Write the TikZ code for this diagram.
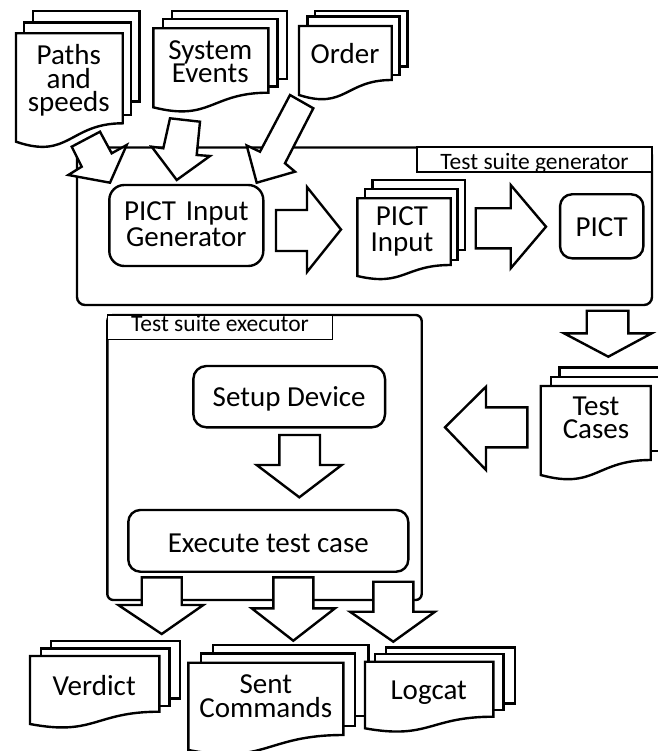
\documentclass[tikz,border=0pt]{standalone}
\usepackage{fontspec}
\setmainfont{Carlito}
\lineskiplimit=-100pt
\newcommand\dpage[4]{\filldraw[docline] (#1,#2) rectangle (#3,#4);}
\newcommand\dfront[5]{\filldraw[docline] (#1,#2) -- (#3,#2) -- (#3,#5) .. controls ({(#1+#3)/2},#5) and ({(#1+#3)/2},{#5+2.0*(#4-#5)}) .. (#1,#4) -- cycle;}
\tikzset{
  ln/.style={line width=2.4pt, line join=miter},
  docline/.style={ln, fill=white},
  blk/.style={ln, fill=white},
  bigbox/.style={ln, draw, fill=white, inner sep=0pt},
  rbox/.style={ln, draw, fill=white, inner sep=0pt, align=center, font=\fontsize{29}{24}\selectfont},
  txt/.style={inner sep=0pt, align=center},
  lbl/.style={draw, line width=1.1pt, fill=white, inner sep=0pt, font=\fontsize{23.5}{26}\selectfont},
}
\begin{document}
\begin{tikzpicture}[x=1pt,y=-1pt]
\useasboundingbox (0,0) rectangle (657,751);
\fill[white] (0,0) rectangle (657,751);

% containers
\node[bigbox, rounded corners=8pt, minimum width=575pt, minimum height=157.5pt] (gen) at (364.5,226.25) {};
\node[lbl, minimum width=235pt, text height=23pt, text depth=2pt, anchor=base] (genlbl) at (534.5,170) {Test suite generator};
\node[bigbox, rounded corners=6pt, minimum width=314.4pt, minimum height=285pt] (exe) at (264.5,457.5) {};
\node[lbl, minimum width=225.4pt, text height=16.7pt, text depth=7.6pt, anchor=base] (exelbl) at (220,331.7) {Test suite executor};

% top documents
\dpage{32.7}{11}{139.3}{101.7}
\dpage{24}{22.7}{130.7}{115}
\dfront{16}{33.3}{122.7}{141.7}{123.3}
\node[txt, text width=110pt, anchor=base, font=\fontsize{29}{23.3}\selectfont] (paths) at (68.8,65) {Paths\\and\\speeds};

\dpage{171.7}{11}{286.7}{79}
\dpage{162.7}{19}{277.3}{86.7}
\dfront{153.3}{28.3}{268.3}{107.3}{92.7}
\node[txt, text width=115pt, anchor=base, font=\fontsize{29}{23.4}\selectfont] (sysev) at (210.3,59.3) {System\\Events};

\dpage{315}{11}{407.3}{66.7}
\dpage{307.3}{16.7}{399.3}{75}
\dfront{299}{26}{391.7}{95}{80}
\node[txt, anchor=base, font=\fontsize{29}{24}\selectfont] (order) at (345,64) {Order};

% top arrows
\filldraw[blk] (71.7,146.7) -- (100,131.7) -- (111.7,153.3) -- (126.7,145) -- (110,182.7) -- (68.3,175) -- (81.7,166.7) -- cycle;
\filldraw[blk] (170,118.3) -- (200,121.7) -- (196.7,155) -- (210,156) -- (176.7,180) -- (151.7,146.7) -- (163.3,148.3) -- cycle;
\filldraw[blk] (290,95) -- (313.3,108.3) -- (285,163.3) -- (295,171.7) -- (256.7,182.7) -- (246.7,145.5) -- (260,151.7) -- cycle;

% generator contents
\node[rbox, rounded corners=15pt, text width=154pt, minimum width=154pt, text height=36pt, text depth=45pt, anchor=base, font=\fontsize{29}{25}\selectfont] (pig) at (186.3,221) {PICT Input\\Generator};
\filldraw[blk] (276,210) -- (307,210) -- (307,187) -- (341,229.5) -- (307,272) -- (307,251) -- (276,251) -- cycle;
\dpage{372.3}{180}{465}{250}
\dpage{365}{189}{457.3}{260}
\dfront{357.3}{198.3}{450.7}{276}{265}
\node[txt, text width=90pt, anchor=base, font=\fontsize{29}{26}\selectfont] (pin) at (402,225.5) {PICT\\Input};
\filldraw[blk] (475.7,208.3) -- (510.7,208.3) -- (510.7,185) -- (546,226.7) -- (510.7,268.3) -- (510.7,248.3) -- (475.7,248.3) -- cycle;
\node[rbox, rounded corners=12pt, minimum width=83.3pt, text height=42.4pt, text depth=21.6pt, anchor=base] (pict) at (601.7,236.7) {PICT};

% to test cases
\filldraw[blk] (586.7,310.7) -- (628.3,310.7) -- (628.3,333.3) -- (651.7,333.3) -- (608.3,356.7) -- (564,333.3) -- (586.7,333.3) -- cycle;
\dpage{559.3}{367.3}{680}{440}
\dpage{550.7}{376.7}{670}{451}
\dfront{540.7}{386}{650.7}{475}{460}
\node[txt, text width=100pt, anchor=base, font=\fontsize{29}{23.3}\selectfont] (tc) at (596,415) {Test\\Cases};
\filldraw[blk] (527.3,407.3) -- (527.3,447.3) -- (486,447.3) -- (486,470) -- (445,427.3) -- (486,386.7) -- (486,407.3) -- cycle;

% executor contents
\node[rbox, rounded corners=13pt, minimum width=191.7pt, text height=40.7pt, text depth=20.6pt, anchor=base] (setup) at (289.2,406.7) {Setup Device};
\filldraw[blk] (279.3,435) -- (320,435) -- (320,465) -- (341.7,465) -- (299.3,497.3) -- (256.7,465) -- (279.3,465) -- cycle;
\node[rbox, rounded corners=12pt, minimum width=280pt, text height=42.7pt, text depth=19pt, anchor=base] (exec) at (268.3,552.7) {Execute test case};

% bottom arrows
\filldraw[blk] (141.7,577.3) -- (181.7,577.3) -- (181.7,605) -- (203.3,605) -- (161.7,634) -- (118.3,605) -- (141.7,605) -- cycle;
\filldraw[blk] (273.3,577.3) -- (313.3,577.3) -- (313.3,608.3) -- (335,608.3) -- (293.3,640.7) -- (251.7,608.3) -- (273.3,608.3) -- cycle;
\filldraw[blk] (373.3,581.7) -- (413.3,581.7) -- (413.3,611.7) -- (435,611.7) -- (393.3,641.7) -- (350,611.7) -- (373.3,611.7) -- cycle;

% bottom documents
\dpage{50.7}{640.7}{180}{698.3}
\dpage{40.7}{648.3}{169.3}{705.7}
\dfront{30}{656}{159.3}{724}{711.7}
\node[txt, anchor=base, font=\fontsize{29}{24}\selectfont] (verdict) at (94.2,695) {Verdict};

\dpage{212.7}{645}{368.3}{716}
\dpage{201}{653.3}{355}{725.7}
\dfront{188.3}{662.7}{343.3}{750}{735}
\node[txt, text width=150pt, anchor=base, font=\fontsize{29}{24}\selectfont] (sent) at (265.8,693.3) {Sent\\Commands};

\dpage{386}{647.3}{515}{703.3}
\dpage{375}{654}{503.3}{710}
\dfront{365}{661.7}{493.3}{728.3}{716.7}
\node[txt, anchor=base, font=\fontsize{29}{24}\selectfont] (logcat) at (428.7,699.3) {Logcat};
\end{tikzpicture}
\end{document}
